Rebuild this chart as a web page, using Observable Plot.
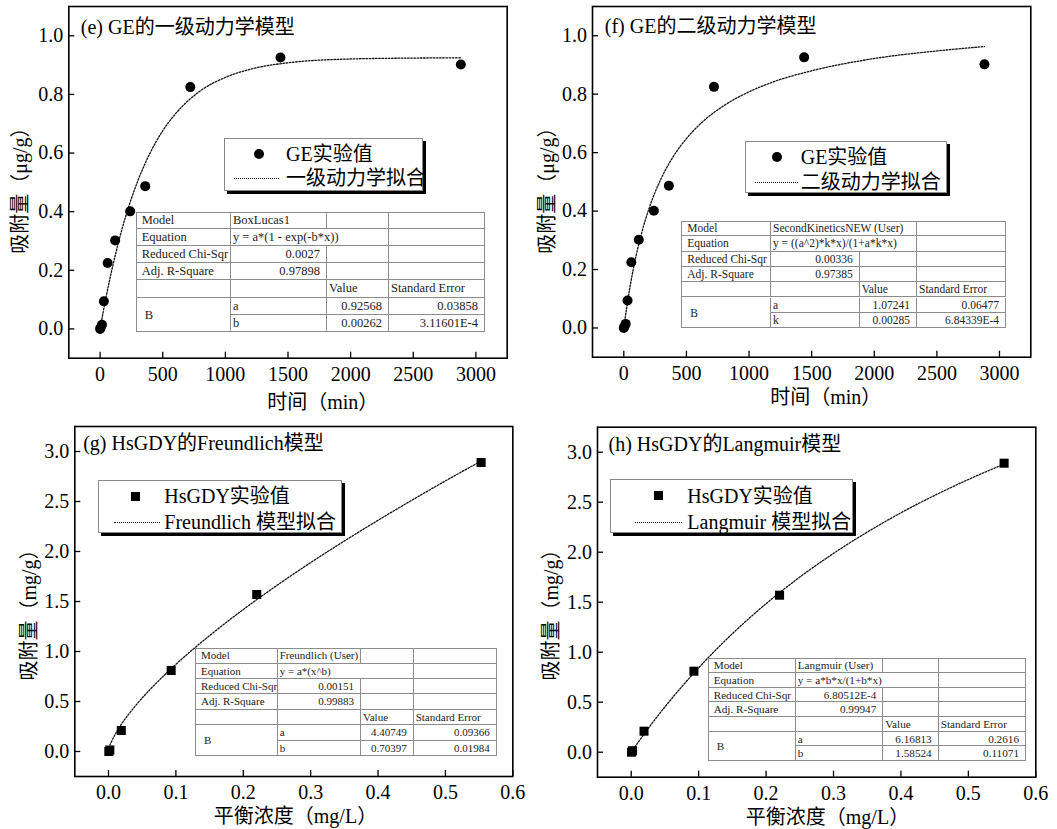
<!DOCTYPE html>
<html><head><meta charset="utf-8">
<script src="https://cdn.jsdelivr.net/npm/d3@7"></script>
<script src="https://cdn.jsdelivr.net/npm/@observablehq/plot@0.6"></script>
<style>
body{margin:0;background:#fff;}
#root{position:relative;width:1057px;height:829px;overflow:hidden;background:#fff;font-family:"Liberation Serif","Noto Sans CJK SC",serif;color:#000;}
.panel{position:absolute;}
.panel svg{overflow:visible;}
#root svg text{font-family:"Liberation Serif","Noto Sans CJK SC",serif !important;}
.legend{position:absolute;box-sizing:border-box;background:#fff;border:1px solid #888;box-shadow:3px 3px 0 #000;}
.legend .txt{position:absolute;font-size:20px;height:24px;line-height:24px;white-space:nowrap;}
.legend .circ{position:absolute;width:10px;height:10px;border-radius:50%;background:#000;}
.legend .sq{position:absolute;width:9px;height:9px;background:#000;}
.legend .dash{position:absolute;height:0;border-top:1.3px dotted #111;}
.tbl{position:absolute;box-sizing:border-box;background:#fff;border-left:1px solid #8c8c8c;border-top:1px solid #8c8c8c;color:#222;}
.tbl .cell{position:absolute;box-sizing:border-box;border-right:1px solid #8c8c8c;border-bottom:1px solid #8c8c8c;white-space:nowrap;overflow:visible;padding-left:2px;padding-right:6px;}
</style>
</head><body><div id="root"></div>
<script>
const FONT = '"Liberation Serif","Noto Sans CJK SC",serif';

// ---- data ----
const geTime = [0, 5, 15, 30, 60, 120, 240, 360, 720, 1440, 2880];
const geQ = [0.000, 0.005, 0.014, 0.094, 0.225, 0.302, 0.401, 0.487, 0.825, 0.926, 0.902];
const fitTime = [0, 25, 50, 100, 150, 200, 300, 400, 500, 600, 800, 1000, 1200, 1500, 2000, 2500, 2880];
const fitFirstQ = [0, 0.059, 0.114, 0.213, 0.301, 0.378, 0.504, 0.601, 0.676, 0.733, 0.812, 0.858, 0.886, 0.908, 0.921, 0.924, 0.925];
const fitSecondQ = [0, 0.076, 0.142, 0.251, 0.337, 0.407, 0.513, 0.590, 0.648, 0.694, 0.761, 0.808, 0.843, 0.880, 0.922, 0.948, 0.963];

const hsConc = [0.0005, 0.002, 0.019, 0.093, 0.220, 0.553];
const hsQ = [0.000, 0.015, 0.210, 0.810, 1.570, 2.890];
const fitFreundlichC = [0, 0.001, 0.005, 0.01, 0.02, 0.04, 0.06, 0.1, 0.15, 0.2, 0.25, 0.3, 0.35, 0.4, 0.45, 0.5, 0.553];
const fitFreundlichQ = [0, 0.034, 0.106, 0.172, 0.281, 0.457, 0.608, 0.871, 1.159, 1.420, 1.661, 1.889, 2.105, 2.312, 2.512, 2.706, 2.904];
const fitLangmuirC = [0, 0.005, 0.01, 0.02, 0.05, 0.1, 0.15, 0.2, 0.25, 0.3, 0.35, 0.4, 0.45, 0.5, 0.553];
const fitLangmuirQ = [0, 0.049, 0.096, 0.190, 0.453, 0.844, 1.185, 1.485, 1.751, 1.988, 2.201, 2.394, 2.568, 2.727, 2.881];

const timeTicks = [0, 500, 1000, 1500, 2000, 2500, 3000];
const geTicks = [0, 0.2, 0.4, 0.6, 0.8, 1.0];
const concTicks = [0, 0.1, 0.2, 0.3, 0.4, 0.5, 0.6];
const hsTicks = [0, 0.5, 1.0, 1.5, 2.0, 2.5, 3.0];

const titles = ["(e) GE的一级动力学模型", "(f) GE的二级动力学模型", "(g) HsGDY的Freundlich模型", "(h) HsGDY的Langmuir模型"];
const xLabels = ["时间（min）", "时间（min）", "平衡浓度（mg/L）", "平衡浓度（mg/L）"];
const yLabels = ["吸附量（μg/g）", "吸附量（μg/g）", "吸附量（mg/g）", "吸附量（mg/g）"];
const seriesLabels = ["GE实验值", "GE实验值", "HsGDY实验值", "HsGDY实验值"];
const fitLabels = ["一级动力学拟合", "二级动力学拟合", "Freundlich 模型拟合", "Langmuir 模型拟合"];

const rowLabels = ["Model", "Equation", "Reduced Chi-Sqr", "Adj. R-Square"];
const modelNames = ["BoxLucas1", "SecondKineticsNEW (User)", "Freundlich (User)", "Langmuir (User)"];
const equations = ["y = a*(1 - exp(-b*x))", "y = ((a^2)*k*x)/(1+a*k*x)", "y = a*(x^b)", "y = a*b*x/(1+b*x)"];
const chiSqr = ["0.0027", "0.00336", "0.00151", "6.80512E-4"];
const adjR2 = ["0.97898", "0.97385", "0.99883", "0.99947"];
const paramNames = [["a", "b"], ["a", "k"], ["a", "b"], ["a", "b"]];
const paramValues = [["0.92568", "0.00262"], ["1.07241", "0.00285"], ["4.40749", "0.70397"], ["6.16813", "1.58524"]];
const paramErrors = [["0.03858", "3.11601E-4"], ["0.06477", "6.84339E-4"], ["0.09366", "0.01984"], ["0.2616", "0.11071"]];

// ---- layout ----
const panels = [
  {left: 0, top: 0, h: 415, ml: 68.3, mr: 21.3, mt: 6, mb: 57.3, xd: [-250, 3250], yd: [-0.1, 1.1], xt: timeTicks, xf: "d", yt: geTicks,
   px: geTime, py: geQ, fx: fitTime, fy: fitFirstQ, symbol: "circle", r: 5, tdx: 12, tdy: 20.7, xlx: 198.4, xly: 44, ylx: -48.3, yly: -104.4},
  {left: 527, top: 0, h: 415, ml: 65, mr: 24.7, mt: 6, mb: 58.3, xd: [-250, 3250], yd: [-0.1, 1.1], xt: timeTicks, xf: "d", yt: geTicks,
   px: geTime, py: geQ, fx: fitTime, fy: fitSecondQ, symbol: "circle", r: 5, tdx: 12.3, tdy: 20, xlx: 177.7, xly: 40, ylx: -45, yly: -103.4},
  {left: 0, top: 415, h: 414, ml: 74.3, mr: 15.7, mt: 11, mb: 53, xd: [-0.05, 0.6], yd: [-0.25, 3.25], xt: concTicks, xf: ".1f", yt: hsTicks,
   px: hsConc, py: hsQ, fx: fitFreundlichC, fy: fitFreundlichQ, symbol: "square", r: 5.1, tdx: 8.4, tdy: 17.3, xlx: 139, xly: 40.5, ylx: -45.3, yly: -96},
  {left: 527, top: 415, h: 414, ml: 70, mr: 19.7, mt: 11.7, mb: 52.3, xd: [-0.05, 0.6], yd: [-0.25, 3.25], xt: concTicks, xf: ".1f", yt: hsTicks,
   px: hsConc, py: hsQ, fx: fitLangmuirC, fy: fitLangmuirQ, symbol: "square", r: 5.1, tdx: 11, tdy: 17.6, xlx: 148.3, xly: 40, ylx: -46, yly: -96.7}
];
const legends = [
  {left: 224.3, top: 138.3, w: 198.4, h: 52.4, tx: 60.7, mx: 34, l0: 9, l1: 54, r1: 14.4, r2: 38.7},
  {left: 745.3, top: 141, w: 201.7, h: 52.3, tx: 54.4, mx: 31, l0: 8.4, l1: 51.7, r1: 14.7, r2: 39.7},
  {left: 97.7, top: 480, w: 244, h: 53.3, tx: 65.6, mx: 37.3, l0: 15, l1: 61.6, r1: 15, r2: 41},
  {left: 610.3, top: 479.3, w: 242.7, h: 54, tx: 76, mx: 47.4, l0: 24, l1: 70.7, r1: 15.7, r2: 41.7}
];
const tables = [
  {left: 135.7, top: 211.7, cols: [95.3, 96, 62, 96], rh: 17.2, fs: 12.5, modelSpan: 1},
  {left: 681.3, top: 221, cols: [89.7, 88.7, 57.3, 89], rh: 15.3, fs: 11.5, modelSpan: 2},
  {left: 195, top: 648.3, cols: [82.7, 83.3, 52.7, 83], rh: 15.4, fs: 11, modelSpan: 1},
  {left: 707.7, top: 658.3, cols: [88, 87.6, 55.4, 87.3], rh: 14.7, fs: 11.2, modelSpan: 1}
];

const root = document.getElementById("root");

panels.forEach((p, k) => {
  const pts = p.px.map((x, i) => ({x, y: p.py[i]}));
  const fit = p.fx.map((x, i) => ({x, y: p.fy[i]}));
  const chart = Plot.plot({
    width: 528, height: p.h,
    marginLeft: p.ml, marginRight: p.mr, marginTop: p.mt, marginBottom: p.mb,
    style: {fontFamily: FONT, fontSize: "20px", color: "#000", background: "transparent", overflow: "visible"},
    x: {domain: p.xd}, y: {domain: p.yd},
    marks: [
      Plot.line(fit, {x: "x", y: "y", curve: "monotone-x", stroke: "#111", strokeWidth: 1.3, strokeDasharray: "1.6,1.6"}),
      Plot.dot(pts, {x: "x", y: "y", r: p.r, symbol: p.symbol, fill: "#000", stroke: "none"}),
      Plot.frame({stroke: "#000", strokeWidth: 1.6}),
      Plot.axisX({ticks: p.xt, tickFormat: p.xf, tickSize: -6, tickPadding: 14.5, fontSize: 20, label: null, strokeWidth: 1.3}),
      Plot.axisY({ticks: p.yt, tickFormat: ".1f", tickSize: -6, tickPadding: 11.5, fontSize: 20, label: null, strokeWidth: 1.3}),
      Plot.text([titles[k]], {text: d => d, frameAnchor: "top-left", textAnchor: "start", lineAnchor: "middle", dx: p.tdx, dy: p.tdy, fontSize: 20}),
      Plot.text([xLabels[k]], {text: d => d, frameAnchor: "bottom-left", textAnchor: "start", lineAnchor: "middle", dx: p.xlx, dy: p.xly, fontSize: 20}),
      Plot.text([yLabels[k]], {text: d => d, frameAnchor: "bottom-left", textAnchor: "start", lineAnchor: "middle", rotate: -90, dx: p.ylx, dy: p.yly, fontSize: 20})
    ]
  });
  const div = document.createElement("div");
  div.className = "panel";
  div.style.left = p.left + "px";
  div.style.top = p.top + "px";
  div.appendChild(chart);
  root.appendChild(div);

  // legend
  const L = legends[k];
  const lg = document.createElement("div");
  lg.className = "legend";
  Object.assign(lg.style, {left: L.left + "px", top: L.top + "px", width: L.w + "px", height: L.h + "px"});
  const mk = document.createElement("div");
  if (p.symbol === "circle") { mk.className = "circ"; mk.style.left = (L.mx - 5) + "px"; mk.style.top = (L.r1 - 5) + "px"; }
  else { mk.className = "sq"; mk.style.left = (L.mx - 4.5) + "px"; mk.style.top = (L.r1 - 4.5) + "px"; }
  lg.appendChild(mk);
  const ds = document.createElement("div");
  ds.className = "dash";
  Object.assign(ds.style, {left: L.l0 + "px", width: (L.l1 - L.l0) + "px", top: L.r2 + "px"});
  lg.appendChild(ds);
  [seriesLabels[k], fitLabels[k]].forEach((t, j) => {
    const s = document.createElement("div");
    s.className = "txt";
    s.textContent = t;
    s.style.left = L.tx + "px";
    s.style.top = ((j ? L.r2 : L.r1) - 12) + "px";
    lg.appendChild(s);
  });
  root.appendChild(lg);

  // fit-result table
  const T = tables[k];
  const tb = document.createElement("div");
  tb.className = "tbl";
  const W = T.cols.reduce((a, b) => a + b, 0);
  Object.assign(tb.style, {left: T.left + "px", top: T.top + "px", width: W + "px", height: (7 * T.rh) + "px", fontSize: T.fs + "px"});
  const cells = [];
  cells.push({r: 0, c: 0, text: rowLabels[0]});
  if (T.modelSpan === 2) { cells.push({r: 0, c: 1, cs: 2, text: modelNames[k]}); }
  else { cells.push({r: 0, c: 1, text: modelNames[k]}); cells.push({r: 0, c: 2, text: ""}); }
  cells.push({r: 0, c: 3, text: ""});
  cells.push({r: 1, c: 0, text: rowLabels[1]}, {r: 1, c: 1, cs: 2, text: equations[k]}, {r: 1, c: 3, text: ""});
  cells.push({r: 2, c: 0, text: rowLabels[2]}, {r: 2, c: 1, text: chiSqr[k], right: true}, {r: 2, c: 2, text: ""}, {r: 2, c: 3, text: ""});
  cells.push({r: 3, c: 0, text: rowLabels[3]}, {r: 3, c: 1, text: adjR2[k], right: true}, {r: 3, c: 2, text: ""}, {r: 3, c: 3, text: ""});
  cells.push({r: 4, c: 0, text: ""}, {r: 4, c: 1, text: ""}, {r: 4, c: 2, text: "Value"}, {r: 4, c: 3, text: "Standard Error"});
  cells.push({r: 5, c: 0, rs: 2, text: "B", pad: 9});
  [0, 1].forEach(j => {
    cells.push({r: 5 + j, c: 1, text: paramNames[k][j]}, {r: 5 + j, c: 2, text: paramValues[k][j], right: true}, {r: 5 + j, c: 3, text: paramErrors[k][j], right: true});
  });
  cells.forEach(cl => {
    const d = document.createElement("div");
    d.className = "cell";
    const cs = cl.cs || 1, rs = cl.rs || 1;
    const x0 = T.cols.slice(0, cl.c).reduce((a, b) => a + b, 0);
    const w = T.cols.slice(cl.c, cl.c + cs).reduce((a, b) => a + b, 0);
    Object.assign(d.style, {
      left: (x0 - 1) + "px", top: (cl.r * T.rh - 1) + "px", width: (w) + "px", height: (rs * T.rh) + "px",
      lineHeight: (rs * T.rh) + "px", textAlign: cl.right ? "right" : "left",
      paddingLeft: (cl.pad || (cl.c === 0 ? 6 : 2)) + "px"
    });
    d.textContent = cl.text;
    tb.appendChild(d);
  });
  root.appendChild(tb);
});
</script></body></html>
